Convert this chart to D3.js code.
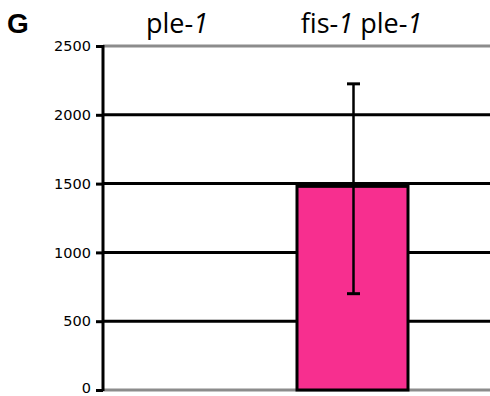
<!DOCTYPE html>
<html>
<head>
<meta charset="UTF-8" />
<script src="https://d3js.org/d3.v7.min.js"></script>
<style>
  body { margin: 0; background: #fff; }
  svg { display: block; }
</style>
</head>
<body>
<svg id="chart" width="490" height="396"></svg>
<script>
  const categories = ["ple-1", "fis-1 ple-1"];
  const values = [0, 1480];
  const errLow = [null, 700];
  const errHigh = [null, 2225];
  const yTicks = [0, 500, 1000, 1500, 2000, 2500];

  const svg = d3.select("#chart");
  const x0 = 103, x1 = 490;

  const y = d3.scaleLinear().domain([0, 2500]).range([390, 46]);
  const x = d3.scalePoint().domain(categories).range([177, 352.5]);

  // gridlines
  svg.append("g").selectAll("line")
    .data(yTicks)
    .enter().append("line")
    .attr("x1", x0).attr("x2", x1)
    .attr("y1", d => y(d)).attr("y2", d => y(d))
    .style("stroke", d => (d === 0 || d === 2500) ? "#8c8c8c" : "#000")
    .style("stroke-width", 3);

  // bars
  const barW = 111;
  svg.append("g").selectAll("rect")
    .data(values.map((v, i) => ({ v, c: categories[i] })).filter(d => d.v > 0))
    .enter().append("rect")
    .attr("x", d => x(d.c) - barW / 2)
    .attr("y", d => y(d.v))
    .attr("width", barW)
    .attr("height", d => y(0) - y(d.v))
    .style("fill", "#f72f8f")
    .style("stroke", "#000")
    .style("stroke-width", 3);

  // error bars
  const eb = svg.append("g");
  categories.forEach((c, i) => {
    if (errLow[i] == null) return;
    const cx = x(c) + 1;
    eb.append("line").attr("x1", cx).attr("x2", cx)
      .attr("y1", y(errHigh[i])).attr("y2", y(errLow[i]))
      .style("stroke", "#000").style("stroke-width", 2.5);
    [errHigh[i], errLow[i]].forEach(v => {
      eb.append("line").attr("x1", cx - 6.5).attr("x2", cx + 6.5)
        .attr("y1", y(v)).attr("y2", y(v))
        .style("stroke", "#000").style("stroke-width", 3);
    });
  });

  // y axis
  const axis = d3.axisLeft(y).tickValues(yTicks).tickFormat(d3.format("d"))
    .tickSize(7).tickPadding(5);
  const ag = svg.append("g").attr("transform", `translate(${x0},0)`).call(axis);
  ag.select(".domain").style("stroke", "#000").style("stroke-width", 3)
    .attr("d", `M0,${y(2500) - 1}V${y(0) + 1}`);
  ag.selectAll(".tick line").style("stroke", "#000").style("stroke-width", 3);
  ag.selectAll(".tick text")
    .attr("font-family", "DejaVu Sans, sans-serif")
    .attr("font-size", 14.5)
    .attr("dy", d => d === 0 ? "0.2em" : "0.32em")
    .style("fill", "#000");

  // category labels
  svg.append("g").selectAll("text")
    .data(categories)
    .enter().append("text")
    .attr("x", (d, i) => x(d) + (i ? 9 : 0))
    .attr("y", 33)
    .attr("text-anchor", "middle")
    .style("font-family", "Open Sans, sans-serif")
    .style("font-size", "27px")
    .each(function(d) {
      const t = d3.select(this);
      d.split(" ").forEach((part, k) => {
        if (k > 0) t.append("tspan").text("\u00a0");
        t.append("tspan").text(part.replace(/1$/, ""));
        t.append("tspan").style("font-style", "italic").text("1");
      });
    });

  // panel letter
  svg.append("text")
    .attr("x", 7).attr("y", 33)
    .style("font-family", "Liberation Sans, Arial, sans-serif")
    .style("font-weight", "bold")
    .style("font-size", "28px")
    .text("G");
</script>
</body>
</html>
